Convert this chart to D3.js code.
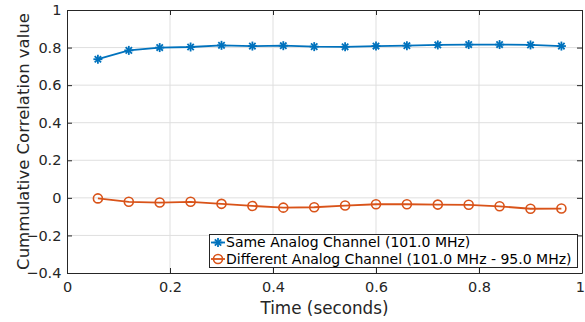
<!DOCTYPE html>
<html>
<head>
<meta charset="utf-8">
<script src="https://cdn.jsdelivr.net/npm/d3@7"></script>
<style>
  body { margin: 0; background: #fff; }
  svg { font-family: "DejaVu Sans", sans-serif; }
</style>
</head>
<body>
<svg id="chart"></svg>
<script>
// time (s) of each cumulative window
const times = [0.06, 0.12, 0.18, 0.24, 0.30, 0.36, 0.42, 0.48, 0.54, 0.60, 0.66, 0.72, 0.78, 0.84, 0.90, 0.96];
const sameChannel = [0.738, 0.785, 0.800, 0.803, 0.812, 0.808, 0.810, 0.805, 0.804, 0.808, 0.810, 0.814, 0.816, 0.816, 0.814, 0.808];
const diffChannel = [-0.003, -0.021, -0.025, -0.021, -0.032, -0.043, -0.052, -0.050, -0.041, -0.034, -0.034, -0.036, -0.037, -0.045, -0.058, -0.057];
const xTicks = [0, 0.2, 0.4, 0.6, 0.8, 1];
const yTicks = [-0.4, -0.2, 0, 0.2, 0.4, 0.6, 0.8, 1];
const legendLabels = ["Same Analog Channel (101.0 MHz)", "Different Analog Channel (101.0 MHz - 95.0 MHz)"];

const width = 585, height = 322;
const margin = { left: 67, right: 3, top: 10, bottom: 49 };
const blue = "#0072BD", orange = "#D95319", axisCol = "#262626";

const svg = d3.select("#chart").attr("width", width).attr("height", height);

const x = d3.scaleLinear().domain([0, 1]).range([margin.left, width - margin.right]);
const y = d3.scaleLinear().domain([-0.4, 1]).range([height - margin.bottom, margin.top]);

// grid
svg.append("g").selectAll("line").data(xTicks.slice(1, -1)).join("line")
  .attr("x1", d => x(d)).attr("x2", d => x(d))
  .attr("y1", y(-0.4)).attr("y2", y(1))
  .attr("stroke", "#dfdfdf").attr("stroke-width", 1);
svg.append("g").selectAll("line").data(yTicks.slice(1, -1)).join("line")
  .attr("x1", x(0)).attr("x2", x(1))
  .attr("y1", d => y(d)).attr("y2", d => y(d))
  .attr("stroke", "#dfdfdf").attr("stroke-width", 1);

// axes, ticks inward
const tickLen = 5;
const bottomAxis = svg.append("g").attr("transform", `translate(0,${y(-0.4)})`)
  .call(d3.axisBottom(x).tickValues(xTicks).tickSizeInner(-tickLen).tickSizeOuter(0).tickPadding(10)
    .tickFormat(d3.format("~g")));
const leftAxis = svg.append("g").attr("transform", `translate(${x(0)},0)`)
  .call(d3.axisLeft(y).tickValues(yTicks).tickSizeInner(-tickLen).tickSizeOuter(0).tickPadding(7)
    .tickFormat(d3.format("~g")));
const topAxis = svg.append("g").attr("transform", `translate(0,${y(1)})`)
  .call(d3.axisTop(x).tickValues(xTicks).tickSizeInner(-tickLen).tickSizeOuter(0).tickFormat(""));
const rightAxis = svg.append("g").attr("transform", `translate(${x(1)},0)`)
  .call(d3.axisRight(y).tickValues(yTicks).tickSizeInner(-tickLen).tickSizeOuter(0).tickFormat(""));

[bottomAxis, leftAxis, topAxis, rightAxis].forEach(a => {
  a.select(".domain").attr("stroke", axisCol).attr("stroke-width", 1);
  a.selectAll(".tick line").attr("stroke", axisCol);
  a.selectAll(".tick text").attr("fill", axisCol).style("font-size", "14.5px").style("font-family", "DejaVu Sans");
});
bottomAxis.selectAll(".tick text").attr("dy", "0.62em")
  .attr("dx", d => d === 1 ? "-0.15em" : 0);
leftAxis.selectAll(".tick text").attr("dx", "0.1em");

// axis labels
svg.append("text")
  .attr("x", (x(0) + x(1)) / 2).attr("y", 314)
  .attr("text-anchor", "middle").attr("fill", axisCol)
  .style("font-size", "16.8px").text("Time (seconds)");
svg.append("text")
  .attr("transform", `translate(29,${(y(-0.4) + y(1)) / 2}) rotate(-90)`)
  .attr("text-anchor", "middle").attr("fill", axisCol)
  .style("font-size", "16.5px").text("Cummulative Correlation value");

// series
const line = d3.line().x(d => x(d[0])).y(d => y(d[1]));
const blueData = times.map((t, i) => [t, sameChannel[i]]);
const orangeData = times.map((t, i) => [t, diffChannel[i]]);

function asterisk(g, cx, cy, r, color) {
  [0, 45, 90, 135].forEach(a => {
    const rad = a * Math.PI / 180;
    g.append("line")
      .attr("x1", cx - r * Math.cos(rad)).attr("y1", cy - r * Math.sin(rad))
      .attr("x2", cx + r * Math.cos(rad)).attr("y2", cy + r * Math.sin(rad))
      .attr("stroke", color).attr("stroke-width", 1.8);
  });
}

svg.append("path").datum(blueData).attr("d", line)
  .attr("fill", "none").attr("stroke", blue).attr("stroke-width", 1.8);
const bm = svg.append("g");
blueData.forEach(d => asterisk(bm, x(d[0]), y(d[1]), 4.5, blue));

svg.append("path").datum(orangeData).attr("d", line)
  .attr("fill", "none").attr("stroke", orange).attr("stroke-width", 1.8);
svg.append("g").selectAll("circle").data(orangeData).join("circle")
  .attr("cx", d => x(d[0])).attr("cy", d => y(d[1])).attr("r", 4.5)
  .attr("fill", "none").attr("stroke", orange).attr("stroke-width", 1.6);

// legend
const lg = svg.append("g");
lg.append("rect").attr("x", 209.5).attr("y", 234.5).attr("width", 368).attr("height", 33)
  .attr("fill", "#fff").attr("stroke", axisCol).attr("stroke-width", 1);
const rowY = [242.5, 259];
lg.append("line").attr("x1", 211).attr("x2", 225).attr("y1", rowY[0]).attr("y2", rowY[0])
  .attr("stroke", blue).attr("stroke-width", 1.8);
asterisk(lg, 218, rowY[0], 4.5, blue);
lg.append("line").attr("x1", 211).attr("x2", 225).attr("y1", rowY[1]).attr("y2", rowY[1])
  .attr("stroke", orange).attr("stroke-width", 1.8);
lg.append("circle").attr("cx", 218).attr("cy", rowY[1]).attr("r", 4.5)
  .attr("fill", "none").attr("stroke", orange).attr("stroke-width", 1.6);
legendLabels.forEach((t, i) => {
  lg.append("text").attr("x", 226).attr("y", rowY[i]).attr("dy", "0.35em")
    .attr("fill", "#000").style("font-size", "14px").text(t);
});
</script>
</body>
</html>
